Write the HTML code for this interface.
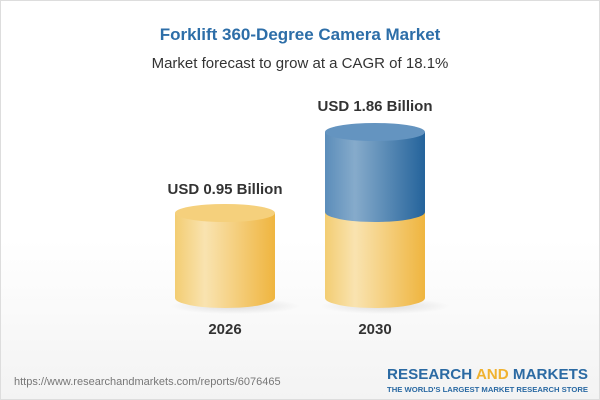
<!DOCTYPE html>
<html><head><style>
body{margin:0;width:600px;height:400px;overflow:hidden;font-family:"Liberation Sans",Arial,sans-serif;}
.wrap{position:absolute;left:0;top:0;width:598px;height:398px;border:1px solid #ddd;background:linear-gradient(#fff 0%,#fff 60%,#f3f3f3 100%);}
</style></head><body>
<div class="wrap"></div>
<svg width="600" height="400" style="position:absolute;left:0;top:0">
<defs>
<linearGradient id="y" x1="0" x2="1"><stop offset="0" stop-color="#f3cd72"/><stop offset="0.3" stop-color="#f9e3b0"/><stop offset="1" stop-color="#efb53f"/></linearGradient>
<linearGradient id="b" x1="0" x2="1"><stop offset="0" stop-color="#5b8dba"/><stop offset="0.3" stop-color="#86abcb"/><stop offset="1" stop-color="#24639b"/></linearGradient>
<radialGradient id="sh"><stop offset="0" stop-color="#000" stop-opacity="0.12"/><stop offset="1" stop-color="#000" stop-opacity="0"/></radialGradient>
</defs>
<text x="300" y="40" text-anchor="middle" font-size="17" font-weight="bold" fill="#2d6ea8">Forklift 360-Degree Camera Market</text>
<text x="300" y="68" text-anchor="middle" font-size="15" fill="#333">Market forecast to grow at a CAGR of 18.1%</text>
<ellipse cx="235" cy="306" rx="65" ry="8" fill="url(#sh)"/>
<ellipse cx="385" cy="306" rx="65" ry="8" fill="url(#sh)"/>
<path d="M175 213 V298 A50 10 0 0 0 275 298 V213 Z" fill="url(#y)"/>
<ellipse cx="225" cy="213" rx="50" ry="9" fill="#f5d07c"/>
<path d="M325 212 V298 A50 10 0 0 0 425 298 V212 Z" fill="url(#y)"/>
<path d="M325 132 V212 A50 10 0 0 0 425 212 V132 Z" fill="url(#b)"/>
<ellipse cx="375" cy="132" rx="50" ry="9" fill="#6494c0"/>
<text x="225" y="194" text-anchor="middle" font-size="15" font-weight="bold" fill="#333">USD 0.95 Billion</text>
<text x="375" y="111" text-anchor="middle" font-size="15" font-weight="bold" fill="#333">USD 1.86 Billion</text>
<text x="225" y="334" text-anchor="middle" font-size="15" font-weight="bold" fill="#333">2026</text>
<text x="375" y="334" text-anchor="middle" font-size="15" font-weight="bold" fill="#333">2030</text>
<text x="14" y="385" font-size="11" fill="#777">https://www.researchandmarkets.com/reports/6076465</text>
<text x="387" y="379" font-size="15" font-weight="bold" fill="#2b6aa3" textLength="201" lengthAdjust="spacingAndGlyphs">RESEARCH <tspan fill="#f0b230">AND</tspan> MARKETS</text>
<text x="387" y="392" font-size="7.5" font-weight="bold" fill="#2b6aa3" textLength="201" lengthAdjust="spacingAndGlyphs">THE WORLD'S LARGEST MARKET RESEARCH STORE</text>
</svg>
</body></html>
